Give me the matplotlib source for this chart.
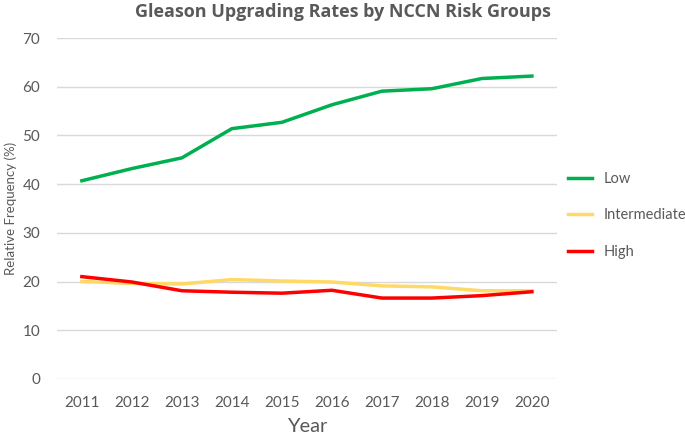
import matplotlib.pyplot as plt

plt.rcParams['font.family'] = ['Lato', 'DejaVu Sans']

years = [2011, 2012, 2013, 2014, 2015, 2016, 2017, 2018, 2019, 2020]
low = [40.7, 43.2, 45.4, 51.4, 52.7, 56.3, 59.1, 59.6, 61.7, 62.2]
intermediate = [20.0, 19.6, 19.5, 20.4, 20.1, 19.9, 19.1, 18.9, 18.1, 18.1]
high = [21.0, 19.9, 18.1, 17.8, 17.6, 18.2, 16.6, 16.6, 17.1, 17.9]

text_col = '#595959'

fig = plt.figure(figsize=(6.85, 4.38), dpi=100)
ax = fig.add_axes([0.083, 0.135, 0.730, 0.778])

ax.plot(years, low, color='#00B050', linewidth=2.5, label='Low')
ax.plot(years, intermediate, color='#FFD966', linewidth=2.5, label='Intermediate')
ax.plot(years, high, color='#FF0000', linewidth=2.5, label='High')

ax.set_xlim(2010.5, 2020.5)
ax.set_ylim(0, 70)
ax.set_yticks(range(0, 71, 10))
ax.set_xticks(years)
ax.grid(axis='y', color='#D9D9D9', linewidth=1)
ax.set_axisbelow(True)
for s in ax.spines.values():
    s.set_visible(False)
ax.tick_params(length=0, colors=text_col, labelsize=11)
ax.tick_params(axis='x', pad=12)
ax.tick_params(axis='y', pad=12)

ax.set_xlabel('Year', fontsize=14.5, color=text_col)
ax.xaxis.set_label_coords(0.5, -0.115)
ax.set_ylabel('Relative Frequency (%)', fontsize=9.5, color=text_col)
ax.yaxis.set_label_coords(-0.08, 0.5)
fig.text(0.5, 0.972, 'Gleason Upgrading Rates by NCCN Risk Groups', fontsize=13,
         fontweight='bold', family=['Open Sans', 'DejaVu Sans'],
         color=text_col, ha='center', va='center')

leg = ax.legend(loc='center left', bbox_to_anchor=(0.995, 0.48), frameon=False,
                fontsize=10.5, handlelength=1.7, labelspacing=1.55, handletextpad=0.75)
for t in leg.get_texts():
    t.set_color(text_col)

plt.savefig('out.png', dpi=100)
